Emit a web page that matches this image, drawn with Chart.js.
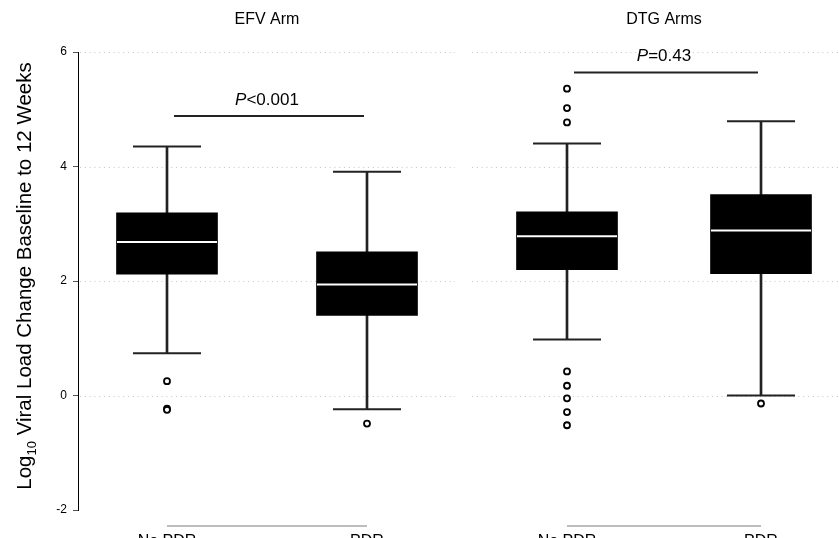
<!DOCTYPE html>
<html>
<head>
<meta charset="utf-8">
<script src="https://cdn.jsdelivr.net/npm/chart.js@4.4.1/dist/chart.umd.min.js"></script>
<style>
  html, body { margin: 0; padding: 0; background: #fff; overflow: hidden; }
  canvas { display: block; }
</style>
</head>
<body>
<canvas id="chart" width="839" height="538"></canvas>
<script>
// values
const panels = ['EFV Arm', 'DTG Arms'];
const categories = ['No PDR', 'PDR', 'No PDR', 'PDR'];
const whiskerLow = [0.74, -0.24, 0.98, 0.00];
const q1 = [2.12, 1.40, 2.20, 2.13];
const median = [2.68, 1.94, 2.78, 2.88];
const q3 = [3.19, 2.51, 3.21, 3.51];
const whiskerHigh = [4.35, 3.91, 4.40, 4.79];
const outliers = [
    [0.25, -0.23, -0.25],
    [-0.49],
    [5.36, 5.02, 4.77, 0.42, 0.17, -0.05, -0.29, -0.52],
    [-0.14]
];
const pLabels = ['<0.001', '=0.43'];
const pBracketY = [4.88, 5.64];
const yTicks = [-2, 0, 2, 4, 6];

// layout (x units, not data)
const catX = [1, 2, 3, 3.97];
const xMin = 0.555, xMax = 4.36;
const panelEdges = [[xMin, 2.44], [2.515, xMax]];
const FONT = '"Liberation Sans", Arial, Helvetica, sans-serif';

function pts(vals) {
    return vals.map((v, i) => ({x: catX[i], y: v}));
}

let datasets = [];
datasets.push({
    type: 'bar', label: 'box', order: 3,
    data: catX.map((x, i) => ({x: x, y: [q1[i], q3[i]]})),
    backgroundColor: '#000', barThickness: 101, grouped: false
});
datasets.push({
    type: 'bar', label: 'upper whisker', order: 4,
    data: catX.map((x, i) => ({x: x, y: [q3[i], whiskerHigh[i]]})),
    backgroundColor: '#222', barThickness: 2, grouped: false
});
datasets.push({
    type: 'bar', label: 'lower whisker', order: 4,
    data: catX.map((x, i) => ({x: x, y: [whiskerLow[i], q1[i]]})),
    backgroundColor: '#222', barThickness: 2, grouped: false
});
[whiskerHigh, whiskerLow].forEach(vals => {
    datasets.push({
        type: 'scatter', label: 'cap', order: 2,
        data: pts(vals),
        pointStyle: 'line', pointRadius: 34, borderColor: '#222', borderWidth: 2
    });
});
datasets.push({
    type: 'scatter', label: 'median', order: 0,
    data: pts(median),
    pointStyle: 'line', pointRadius: 50, borderColor: '#fff', borderWidth: 2
});
let outPts = [];
outliers.forEach((list, i) => list.forEach(v => outPts.push({x: catX[i], y: v})));
datasets.push({
    type: 'scatter', label: 'outliers', order: 1,
    data: outPts,
    pointStyle: 'circle', pointRadius: 3, borderWidth: 1.8,
    borderColor: '#000', backgroundColor: '#fff'
});
for (let p = 0; p < panels.length; p++) {
    datasets.push({
        type: 'line', label: 'bracket', order: 2,
        data: [{x: catX[2 * p] + 0.035, y: pBracketY[p]}, {x: catX[2 * p + 1] - 0.015, y: pBracketY[p]}],
        borderColor: '#222', borderWidth: 2, pointRadius: 0
    });
}

const decor = {
    id: 'decor',
    beforeDatasetsDraw(chart) {
        const {ctx, scales: {x, y}} = chart;
        ctx.save();
        ctx.strokeStyle = '#c4c4c4';
        ctx.lineWidth = 1;
        ctx.setLineDash([1, 3.8]);
        yTicks.filter(v => v > -2).forEach(v => {
            const py = Math.round(y.getPixelForValue(v)) + 0.5;
            panelEdges.forEach(e => {
                ctx.beginPath();
                ctx.moveTo(x.getPixelForValue(e[0]) + 2, py);
                ctx.lineTo(x.getPixelForValue(e[1]), py);
                ctx.stroke();
            });
        });
        ctx.restore();
    },
    afterDraw(chart) {
        const {ctx, chartArea, scales: {x, y}} = chart;
        ctx.save();
        ctx.fillStyle = '#000';
        ctx.textBaseline = 'middle';
        ctx.textAlign = 'center';
        for (let p = 0; p < panels.length; p++) {
            const a = x.getPixelForValue(catX[2 * p]);
            const b = x.getPixelForValue(catX[2 * p + 1]);
            const mid = (a + b) / 2;
            // panel title
            ctx.font = '16px ' + FONT;
            ctx.textAlign = 'center';
            ctx.fillText(panels[p], mid, 20);
            // p value
            const py = y.getPixelForValue(pBracketY[p]) - 16;
            ctx.font = 'italic 17px ' + FONT;
            const w1 = ctx.measureText('P').width;
            ctx.font = '17px ' + FONT;
            const w2 = ctx.measureText(pLabels[p]).width;
            const sx = mid - (w1 + w2) / 2;
            ctx.textAlign = 'left';
            ctx.font = 'italic 17px ' + FONT;
            ctx.fillText('P', sx, py);
            ctx.font = '17px ' + FONT;
            ctx.fillText(pLabels[p], sx + w1, py);
            // x axis line of the panel
            ctx.strokeStyle = '#bdbdbd';
            ctx.lineWidth = 2;
            ctx.beginPath();
            ctx.moveTo(a, chartArea.bottom + 16);
            ctx.lineTo(b, chartArea.bottom + 16);
            ctx.stroke();
        }
        // category labels
        ctx.font = '16px ' + FONT;
        ctx.textAlign = 'center';
        ctx.textBaseline = 'top';
        categories.forEach((c, i) => ctx.fillText(c, x.getPixelForValue(catX[i]), chartArea.bottom + 24));
        // y axis title with subscript
        ctx.translate(31, (chartArea.top + chartArea.bottom) / 2 - 5);
        ctx.rotate(-Math.PI / 2);
        ctx.textBaseline = 'alphabetic';
        ctx.textAlign = 'left';
        const big = '20.5px ' + FONT, small = '13px ' + FONT;
        const rest = ' Viral Load Change Baseline to 12 Weeks';
        ctx.font = big;
        const wa = ctx.measureText('Log').width, wc = ctx.measureText(rest).width;
        ctx.font = small;
        const wb = ctx.measureText('10').width;
        let tx = -(wa + wb + wc) / 2;
        ctx.font = big;
        ctx.fillText('Log', tx, 0);
        ctx.font = small;
        ctx.fillText('10', tx + wa, 5);
        ctx.font = big;
        ctx.fillText(rest, tx + wa + wb, 0);
        ctx.restore();
    }
};

new Chart(document.getElementById('chart'), {
    type: 'bar',
    data: {datasets: datasets},
    options: {
        responsive: false,
        animation: false,
        events: [],
        layout: {autoPadding: false, padding: {top: 52, bottom: 28, left: 0, right: 0}},
        plugins: {legend: {display: false}, tooltip: {enabled: false}},
        scales: {
            x: {type: 'linear', display: false, min: xMin, max: xMax, offset: false},
            y: {
                min: -2, max: 6,
                afterFit: s => { s.width = 78; },
                afterBuildTicks: s => { s.ticks = yTicks.map(v => ({value: v})); },
                ticks: {color: '#000', font: {size: 12, family: FONT}, padding: 6},
                grid: {drawOnChartArea: false, tickLength: 5, color: '#555', tickWidth: 1},
                border: {display: true, color: '#000', width: 1}
            }
        }
    },
    plugins: [decor]
});
</script>
</body>
</html>
